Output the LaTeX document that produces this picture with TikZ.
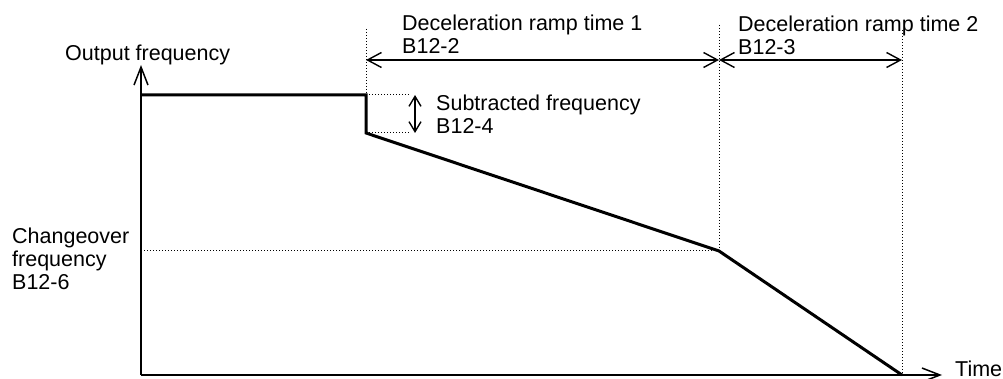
\documentclass[tikz,border=0pt]{standalone}
\usepackage{fontspec}
\setmainfont{Liberation Sans}
\usetikzlibrary{arrows.meta}
\begin{document}
\begin{tikzpicture}[x=1pt,y=-1pt,
  lbl/.style={inner sep=0pt, anchor=base west, align=left, font=\fontsize{21.5}{23}\selectfont},
  axis/.style={line width=1.8pt, -{Straight Barb[length=18pt,width=14pt,line width=1.5pt]}},
  curve/.style={line width=3pt, line join=miter},
  guide/.style={line width=1pt, dotted},
  dimline/.style={line width=1.4pt, {Straight Barb[length=14pt,width=15pt]}-{Straight Barb[length=14pt,width=15pt]}},
  sdimline/.style={line width=1.4pt, {Straight Barb[length=10pt,width=12pt]}-{Straight Barb[length=10pt,width=12pt]}}]
\useasboundingbox (0,0) rectangle (1003,379);
% key points
\coordinate (O) at (141,375);
\coordinate (Ytip) at (141,65);
\coordinate (Xtip) at (942,375);
\coordinate (A) at (141,95);
\coordinate (B) at (366,95);
\coordinate (C) at (366,133);
\coordinate (K) at (719,251);
\coordinate (E) at (902,375);
\coordinate (Bt) at (366,29);
\coordinate (Kt) at (719,25);
\coordinate (Et) at (902,30);
\coordinate (Kl) at (141,251);
\coordinate (Br) at (410,95);
\coordinate (Cr) at (410,133);
\coordinate (D1) at (366,60);
\coordinate (D2) at (719,60);
\coordinate (D3) at (902,60);
\coordinate (S1) at (415,95);
\coordinate (S2) at (415,133);
% guides
\draw[guide] (Bt) -- (B);
\draw[guide] (B) -- (Br);
\draw[guide] (C) -- (Cr);
\draw[guide] (Kt) -- (K);
\draw[guide] (Kl) -- (K);
\draw[guide] (Et) -- (E);
% axes
\draw[axis] (O) -- (Ytip);
\draw[axis] (O) -- (Xtip);
% frequency curve
\draw[curve] (A) -- (B) -- (C) -- (K) -- (E);
% dimensions
\draw[dimline] (D1) -- (D2);
\draw[dimline] (D2) -- (D3);
\draw[sdimline] (S1) -- (S2);
% labels (base anchor = baseline of last line)
\node[lbl] (outf) at (65,61) {Output frequency};
\node[lbl] (ramp1) at (402,54) {Deceleration ramp time 1\\B12-2};
\node[lbl] (ramp2) at (738,55) {Deceleration ramp time 2\\B12-3};
\node[lbl] (subf) at (436,134) {Subtracted frequency\\B12-4};
\node[lbl] (chg) at (12,289) {Changeover\\frequency\\B12-6};
\node[lbl] (time) at (955,376) {Time};
\end{tikzpicture}
\end{document}
